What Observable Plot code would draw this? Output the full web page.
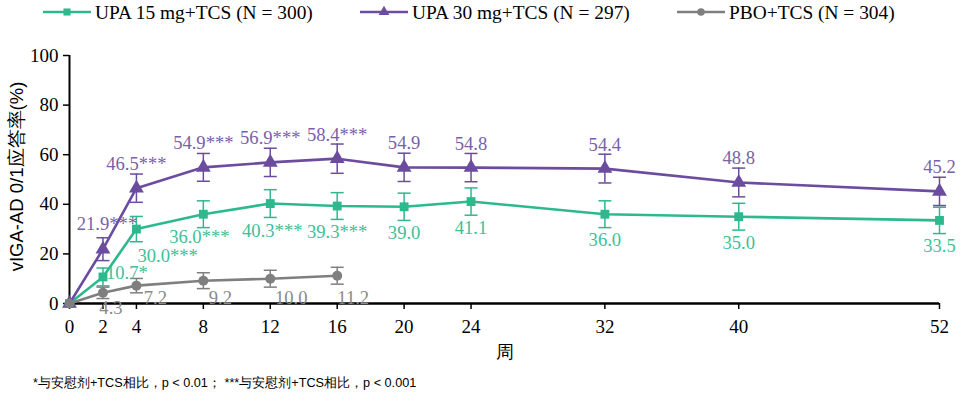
<!DOCTYPE html>
<html>
<head>
<meta charset="utf-8">
<script src="https://cdn.jsdelivr.net/npm/d3@7"></script>
<script src="https://cdn.jsdelivr.net/npm/@observablehq/plot@0.6"></script>
<style>
  body { margin: 0; background: #fff; width: 964px; height: 402px; overflow: hidden; }
  #legend svg { display: block; }
  #foot { font-family: "Liberation Sans", Arial, sans-serif; font-size: 12.7px; color: #000; padding-left: 33px; margin-top: 3px; }
</style>
</head>
<body>
<div id="legend"></div>
<div id="chart"></div>
<div id="foot"></div>
<script>
// ---- data ----
const weeks = [0, 2, 4, 8, 12, 16, 20, 24, 32, 40, 52];
const upa15 = [0, 10.7, 30.0, 36.0, 40.3, 39.3, 39.0, 41.1, 36.0, 35.0, 33.5];
const upa15Err = [0, 3.6, 5.1, 5.4, 5.6, 5.4, 5.5, 5.5, 5.4, 5.4, 5.3];
const upa15Sig = ["", "*", "***", "***", "***", "***", "", "", "", "", ""];
const upa30 = [0, 21.9, 46.5, 54.9, 56.9, 58.4, 54.9, 54.8, 54.4, 48.8, 45.2];
const upa30Err = [0, 4.6, 5.7, 5.6, 5.7, 5.9, 5.7, 5.7, 5.8, 5.8, 5.7];
const upa30Sig = ["", "***", "***", "***", "***", "***", "", "", "", "", ""];
const pboWeeks = [0, 2, 4, 8, 12, 16];
const pbo = [0, 4.3, 7.2, 9.2, 10.0, 11.2];
const pboErr = [0, 2.3, 2.9, 3.2, 3.4, 3.4];
const seriesNames = ["UPA 15 mg+TCS (N = 300)", "UPA 30 mg+TCS (N = 297)", "PBO+TCS (N = 304)"];
const xTicks = [0, 2, 4, 8, 12, 16, 20, 24, 32, 40, 52];
const yTicks = [0, 20, 40, 60, 80, 100];
const yLabel = "vIGA-AD 0/1应答率(%)";
const xLabel = "周";
const footnote = "*与安慰剂+TCS相比，p < 0.01； ***与安慰剂+TCS相比，p < 0.001";

// ---- styles / layout (not data) ----
const colors = ["#2DB88E", "#6B4C9E", "#7F7F7F"];
const labelColors = ["#3DBF98", "#7A5FAA", "#8A8A8A"];
const symbols = ["square", "triangle", "circle"];
const serif = "Liberation Serif, Times New Roman, serif";
const sans = "Liberation Sans, Arial, sans-serif";
const fs = 19;
const lfs = 18.6;

const labelPlace = [
  { def: { dx: 0, dy: 26, anchor: "middle" },
    at: { 2: { dx: 3, dy: -4, anchor: "start" }, 4: { dx: 1, dy: 27, anchor: "start" }, 8: { dx: -4, dy: 23, anchor: "middle" }, 12: { dx: 2, dy: 27 } } },
  { def: { dx: 0, dy: -24, anchor: "middle" },
    at: { 2: { dx: 4, dy: -25 } } },
  { def: { dx: 16, dy: 20, anchor: "middle" },
    at: { 2: { dx: 8, dy: 15 }, 4: { dx: 19, dy: 12 }, 8: { dx: 17, dy: 17 }, 12: { dx: 21, dy: 19 }, 16: { dx: 16, dy: 22 } } }
];

function rows(si, ws, vals, errs, sigs) {
  return ws.map((w, i) => ({ s: si, week: w, value: vals[i], err: errs[i], sig: sigs ? sigs[i] : "" }));
}
const series = [
  rows(0, weeks, upa15, upa15Err, upa15Sig),
  rows(1, weeks, upa30, upa30Err, upa30Sig),
  rows(2, pboWeeks, pbo, pboErr, null)
];

const capSymbol = { draw(ctx) { ctx.moveTo(-6.5, 0); ctx.lineTo(6.5, 0); } };

const marks = [
  Plot.axisY({ ticks: yTicks, tickSize: 6, tickFormat: () => "", label: null, strokeWidth: 1.5 }),
  Plot.axisX({ ticks: xTicks, tickSize: 6, tickFormat: () => "", label: null, strokeWidth: 1.5 }),
  Plot.text(yTicks, { x: 0, y: d => d, text: d => String(d), dx: -11, textAnchor: "end", fontSize: fs, fontFamily: serif, fill: "#000" }),
  Plot.text(xTicks, { x: d => d, y: 0, text: d => String(d), dy: 23, textAnchor: "middle", fontSize: fs, fontFamily: serif, fill: "#000" }),
  Plot.ruleX([0], { stroke: "#000", strokeWidth: 2 }),
  Plot.ruleY([0], { stroke: "#000", strokeWidth: 2.5 }),
  Plot.text([xLabel], { frameAnchor: "bottom", dy: 54, fontSize: 18, fontFamily: sans, fill: "#000" }),
  Plot.text([yLabel], { frameAnchor: "left", textAnchor: "middle", dx: -52, dy: -3, rotate: -90, fontSize: 18.5, fontFamily: sans, fill: "#000" })
];
for (const si of [0, 1, 2]) {
  const d = series[si].filter(r => r.err > 0);
  marks.push(Plot.ruleX(d, { x: "week", y1: r => r.value - r.err, y2: r => r.value + r.err, stroke: colors[si], strokeWidth: 1.5 }));
  marks.push(Plot.dot(d, { x: "week", y: r => r.value + r.err, symbol: capSymbol, stroke: colors[si], strokeWidth: 1.5, fill: "none", r: 5 }));
  marks.push(Plot.dot(d, { x: "week", y: r => r.value - r.err, symbol: capSymbol, stroke: colors[si], strokeWidth: 1.5, fill: "none", r: 5 }));
  marks.push(Plot.line(series[si], { x: "week", y: "value", stroke: colors[si], strokeWidth: 2.6 }));
  marks.push(Plot.dot(series[si], { x: "week", y: "value", symbol: symbols[si], fill: colors[si], stroke: "none", r: si === 1 ? 5.5 : 5 }));
}
for (const si of [0, 1, 2]) {
  for (const r of series[si]) {
    if (r.week === 0) continue;
    const p = Object.assign({}, labelPlace[si].def, labelPlace[si].at[r.week] || {});
    marks.push(Plot.text([r], {
      x: "week", y: "value", text: d => d.value.toFixed(1) + d.sig,
      dx: p.dx, dy: p.dy, textAnchor: p.anchor, fill: labelColors[si],
      fontSize: lfs, fontFamily: serif
    }));
  }
}

const chart = Plot.plot({
  width: 964,
  height: 346,
  marginTop: 29,
  marginBottom: 69,
  marginLeft: 69,
  marginRight: 25,
  x: { domain: [0, 52] },
  y: { domain: [0, 100] },
  style: { background: "#fff", color: "#000", overflow: "visible", fontFamily: serif },
  marks
});
document.getElementById("chart").appendChild(chart);

// legend (SVG above the chart)
const ns = "http://www.w3.org/2000/svg";
const lsvg = document.createElementNS(ns, "svg");
lsvg.setAttribute("width", 964); lsvg.setAttribute("height", 26);
const legendLeft = [43, 360, 677];
seriesNames.forEach((name, i) => {
  const g = document.createElementNS(ns, "g");
  g.setAttribute("transform", `translate(${legendLeft[i]},12)`);
  const line = document.createElementNS(ns, "line");
  line.setAttribute("x1", 0); line.setAttribute("x2", 48); line.setAttribute("y1", 0); line.setAttribute("y2", 0);
  line.setAttribute("stroke", colors[i]); line.setAttribute("stroke-width", 2.5);
  g.appendChild(line);
  const sym = d3.symbol().type([d3.symbolSquare, d3.symbolTriangle, d3.symbolCircle][i]).size(i === 2 ? 45 : 50);
  const path = document.createElementNS(ns, "path");
  path.setAttribute("d", sym()); path.setAttribute("transform", "translate(24,0)"); path.setAttribute("fill", colors[i]);
  g.appendChild(path);
  const t = document.createElementNS(ns, "text");
  t.setAttribute("x", 52); t.setAttribute("y", 0); t.setAttribute("dy", "0.35em");
  t.setAttribute("font-family", serif); t.setAttribute("font-size", 19.4); t.setAttribute("fill", "#000");
  t.textContent = name;
  g.appendChild(t);
  lsvg.appendChild(g);
});
document.getElementById("legend").appendChild(lsvg);
document.getElementById("foot").textContent = footnote;
</script>
</body>
</html>
